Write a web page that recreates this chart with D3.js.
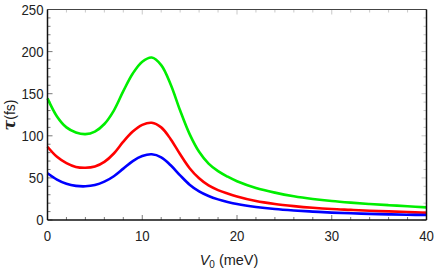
<!DOCTYPE html>
<html><head><meta charset="utf-8">
<script src="https://cdn.jsdelivr.net/npm/d3@7"></script>
<style>body{margin:0;background:#fff}svg{display:block}text{font-family:"Liberation Sans",Arial,sans-serif}</style>
</head><body><svg id="c" width="436" height="273"></svg>
<script>
const v0 = [0,1,2,3,4,5,6,7,8,9,10,11,12,13,14,15,16,17,18,19,20,22,24,26,28,30,32,34,36,38,40];
const green = [144.5,123,110,104,102,105,114,130,153,174,188,193,184,161,130,102,81,67,58,51.5,46,38,32.5,28.2,25,22.5,20.6,19,17.6,16.3,15];
const red = [87,75,67.5,63,62,63.5,69,79,93,105,113,115.5,110,96,78,61.5,49.5,41,35.5,31.5,28,22.5,19,16.5,14.5,13,12,11,10.2,9.4,8.7];
const blue = [55.5,48,43,40.5,40,41.5,45.5,52,61,70,76,78,74.5,65,53,42,34,28.5,24.5,21.5,19,15.5,13,11.3,10,8.8,8,7.3,6.7,6.3,5.9];
const xTicks = [0,10,20,30,40];
const yTicks = [0,50,100,150,200,250];
const seriesColors = ["#00ee00","#ff0000","#0000ff"];

const svg = d3.select("#c");
const L=47.5, R=426.5, T=9.5, B=220;
const x = d3.scaleLinear().domain([0,40]).range([L,R]);
const y = d3.scaleLinear().domain([0,250]).range([B,T]);

const g = svg.append("g");
d3.range(0,41,2).forEach(t=>{
  const major = t%10===0;
  g.append("line").attr("x1",x(t)).attr("x2",x(t)).attr("y1",B).attr("y2",B-(major?5:3)).attr("stroke","#555").attr("stroke-width",0.8);
  g.append("line").attr("x1",x(t)).attr("x2",x(t)).attr("y1",T).attr("y2",T+(major?5:3)).attr("stroke","#bbb").attr("stroke-width",0.8);
});
d3.range(0,251,10).forEach(t=>{
  const major = t%50===0;
  g.append("line").attr("y1",y(t)).attr("y2",y(t)).attr("x1",L).attr("x2",L+(major?5:3)).attr("stroke","#555").attr("stroke-width",0.8);
  g.append("line").attr("y1",y(t)).attr("y2",y(t)).attr("x1",R).attr("x2",R-(major?5:3)).attr("stroke","#bbb").attr("stroke-width",0.8);
});

const line = d3.line().x((d,i)=>x(v0[i])).y(d=>y(d)).curve(d3.curveCatmullRom.alpha(0.5));
[green,red,blue].forEach((s,k)=>{
  svg.append("path").datum(s).attr("d",line).attr("fill","none").attr("stroke",seriesColors[k]).attr("stroke-width",2.6);
});

svg.append("line").attr("x1",L).attr("x2",R).attr("y1",T).attr("y2",T).attr("stroke","#444").attr("stroke-width",1.2);
svg.append("line").attr("x1",R).attr("x2",R).attr("y1",T).attr("y2",B).attr("stroke","#111").attr("stroke-width",1.5);
svg.append("line").attr("x1",L).attr("x2",R).attr("y1",B).attr("y2",B).attr("stroke","#111").attr("stroke-width",1.5);
svg.append("line").attr("x1",L).attr("x2",L).attr("y1",T).attr("y2",B).attr("stroke","#111").attr("stroke-width",1.5);

xTicks.forEach(t=>{
  svg.append("text").attr("x",x(t)).attr("y",241).attr("text-anchor","middle")
    .attr("font-size",15).attr("fill","#222").attr("transform",`translate(${x(t)},0) scale(0.88,1) translate(${-x(t)},0)`).text(t);
});
yTicks.forEach(t=>{
  svg.append("text").attr("x",43.5).attr("y",y(t)+5.5).attr("text-anchor","end")
    .attr("font-size",15).attr("fill","#222").attr("transform",`translate(43.5,0) scale(0.88,1) translate(-43.5,0)`).text(t);
});

const xl = svg.append("text").attr("x",229).attr("y",265).attr("text-anchor","middle").attr("font-size",14.5).attr("fill","#222");
xl.append("tspan").attr("font-style","italic").text("V");
xl.append("tspan").attr("font-size",10).attr("dy",3).text("0");
xl.append("tspan").attr("dy",-3).text(" (meV)");

const yl = svg.append("text").attr("transform","translate(15,115) rotate(-90)").attr("text-anchor","middle").attr("font-size",14).attr("fill","#222");
yl.append("tspan").attr("font-style","italic").attr("font-weight","bold").attr("font-size",16).attr("font-family","DejaVu Serif").text("τ");
yl.append("tspan").text("(fs)");
</script></body></html>
